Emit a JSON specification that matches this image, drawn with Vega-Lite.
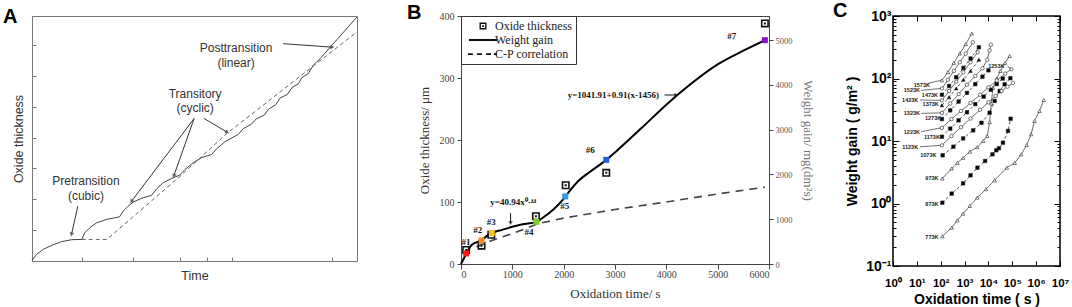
{
"$schema":"https://vega.github.io/schema/vega-lite/v6.json",
"background":"white",
"padding":{"left":2,"top":0,"right":0,"bottom":0},
"bounds":"flush",
"spacing":104,
"resolve":{"scale":{"shape":"independent","fill":"independent","color":"independent","strokeDash":"independent","x":"independent","y":"independent"},"legend":{"shape":"independent","fill":"independent","color":"independent","strokeDash":"independent"}},
"hconcat":[
{
"width":325,"height":245,
"title":{"text":"A","anchor":"start","frame":"group","dx":-29,"offset":-28,"baseline":"alphabetic","fontSize":20,"font":"Liberation Sans","fontWeight":"bold","color":"#000"},
"view":{"stroke":"#777","strokeWidth":1},
"layer":[
{"data":{"values":[{"t":0,"h":0.3},{"t":1.4,"h":2.7},{"t":3.5,"h":4.8},{"t":6.1,"h":6.4},{"t":9.1,"h":7.9},{"t":12.2,"h":8.7},{"t":15.3,"h":8.8},{"t":16.3,"h":11.6},{"t":17.8,"h":13.6},{"t":19.9,"h":15.6},{"t":23.0,"h":17.0},{"t":26.9,"h":18.0},{"t":28.1,"h":20.4},{"t":29.6,"h":22.4},{"t":31.2,"h":24.1},{"t":33.7,"h":25.6},{"t":36.8,"h":26.8},{"t":38.4,"h":29.5},{"t":40.4,"h":32.0},{"t":43.0,"h":33.7},{"t":45.5,"h":35.1},{"t":47.1,"h":37.4},{"t":49.6,"h":40.1},{"t":52.2,"h":42.2},{"t":55.3,"h":43.5},{"t":56.8,"h":45.8},{"t":59.4,"h":48.7},{"t":63.5,"h":51.7},{"t":65.0,"h":54.0},{"t":67.5,"h":55.8},{"t":69.0,"h":58.0},{"t":71.5,"h":59.6},{"t":72.7,"h":61.9},{"t":75.0,"h":63.8},{"t":76.3,"h":66.5},{"t":78.6,"h":68.0},{"t":80.0,"h":70.8},{"t":82.0,"h":72.4},{"t":83.0,"h":74.8},{"t":85.0,"h":76.5},{"t":86.6,"h":80.0},{"t":88.6,"h":82.5},{"t":100,"h":99.6}]},
 "mark":{"type":"line","color":"#444","strokeWidth":1},
 "encoding":{
  "x":{"field":"t","type":"quantitative","scale":{"domain":[0,100],"nice":false},"axis":{"title":"Time","values":[15.3,31,45.6,53.7,61.6,92.3],"labels":false,"tickSize":-4,"grid":false,"domainColor":"#777","tickColor":"#777","titleFont":"Liberation Sans","titleFontSize":12.5,"titleFontWeight":"normal","titleColor":"#333","titlePadding":8}},
  "y":{"field":"h","type":"quantitative","scale":{"domain":[0,100],"nice":false},"axis":{"title":"Oxide thickness","values":[12.6,25.2,37.8,50.4,63,75.6,88.2],"labels":false,"tickSize":-4,"grid":false,"domainColor":"#777","tickColor":"#777","titleFont":"Liberation Sans","titleFontSize":12.5,"titleFontWeight":"normal","titleColor":"#333","titlePadding":6}}
 }},
{"data":{"values":[{"t":15.3,"h":8.8},{"t":23,"h":8.8},{"t":45.5,"h":34.5},{"t":59.9,"h":52},{"t":72,"h":64.5},{"t":86,"h":79},{"t":100,"h":93.5}]},
 "mark":{"type":"line","color":"#666","strokeWidth":1,"strokeDash":[4,3]},
 "encoding":{"x":{"field":"t","type":"quantitative"},"y":{"field":"h","type":"quantitative"}}},
{"data":{"values":[{"id":"p","t":14.1,"h":22.4,"t2":12.2,"h2":11.1},{"id":"t1","t":49.9,"h":58.2,"t2":30.7,"h2":24.5},{"id":"t2","t":49.9,"h":58.2,"t2":43.7,"h2":35.0},{"id":"t3","t":52.9,"h":58.2,"t2":59.9,"h2":52.7},{"id":"q","t":77.3,"h":88.7,"t2":92.2,"h2":87.3}]},
 "layer":[
  {"mark":{"type":"rule","color":"#333","strokeWidth":1},"encoding":{"x":{"field":"t","type":"quantitative"},"y":{"field":"h","type":"quantitative"},"x2":{"field":"t2"},"y2":{"field":"h2"}}},
  {"transform":[{"filter":"datum.id=='p'"}],"mark":{"type":"point","shape":"triangle","filled":true,"color":"#333","size":22,"angle":192},"encoding":{"x":{"field":"t2","type":"quantitative"},"y":{"field":"h2","type":"quantitative"}}},
  {"transform":[{"filter":"datum.id=='t1'"}],"mark":{"type":"point","shape":"triangle","filled":true,"color":"#333","size":22,"angle":217},"encoding":{"x":{"field":"t2","type":"quantitative"},"y":{"field":"h2","type":"quantitative"}}},
  {"transform":[{"filter":"datum.id=='t2'"}],"mark":{"type":"point","shape":"triangle","filled":true,"color":"#333","size":22,"angle":200},"encoding":{"x":{"field":"t2","type":"quantitative"},"y":{"field":"h2","type":"quantitative"}}},
  {"transform":[{"filter":"datum.id=='t3'"}],"mark":{"type":"point","shape":"triangle","filled":true,"color":"#333","size":22,"angle":121},"encoding":{"x":{"field":"t2","type":"quantitative"},"y":{"field":"h2","type":"quantitative"}}},
  {"transform":[{"filter":"datum.id=='q'"}],"mark":{"type":"point","shape":"triangle","filled":true,"color":"#333","size":22,"angle":94},"encoding":{"x":{"field":"t2","type":"quantitative"},"y":{"field":"h2","type":"quantitative"}}}
 ]},
{"data":{"values":[{"t":62.8,"h":87.1,"s":"Posttransition"},{"t":62.8,"h":80.9,"s":"(linear)"},{"t":50.2,"h":68.3,"s":"Transitory"},{"t":50.2,"h":62.3,"s":"(cyclic)"},{"t":16.6,"h":32.7,"s":"Pretransition"},{"t":16.6,"h":26.5,"s":"(cubic)"}]},
 "mark":{"type":"text","font":"Liberation Sans","fontSize":12,"color":"#333","align":"center","baseline":"middle"},
 "encoding":{"x":{"field":"t","type":"quantitative"},"y":{"field":"h","type":"quantitative"},"text":{"field":"s"}}}
]
},
{
"hconcat":[
{
"width":308,"height":248,
"title":{"text":"B","anchor":"start","frame":"group","dx":-54,"offset":-28,"baseline":"alphabetic","fontSize":20,"font":"Liberation Sans","fontWeight":"bold","color":"#000"},
"view":{"stroke":"#444","strokeWidth":1},
"resolve":{"scale":{"y":"independent"}},
"layer":[
{"layer":[
 {"data":{"values":[{"t":300,"ox":28},{"t":600,"ox":38},{"t":1000,"ox":49},{"t":1500,"ox":65},{"t":2000,"ox":74},{"t":3000,"ox":88},{"t":4000,"ox":100},{"t":5000,"ox":113},{"t":5920,"ox":124}]},
  "mark":{"type":"line","color":"#444","strokeWidth":1.6,"strokeDash":[8,6]},
  "encoding":{
   "x":{"field":"t","type":"quantitative","title":"Oxidation time/ s","scale":{"domain":[0,6000],"nice":false},"axis":{"values":[0,500,1000,1500,2000,2500,3000,3500,4000,4500,5000,5500,6000],"labelExpr":"datum.value % 1000 == 0 ? datum.label : ''","format":"d","labelOverlap":false,"tickSize":{"condition":{"test":"datum.value % 1000 == 0","value":5},"value":3},"labelFont":"Liberation Serif","labelFontSize":10,"labelColor":"#444","titleFont":"Liberation Serif","titleFontSize":13,"titleFontWeight":"normal","titleColor":"#333","titlePadding":8,"grid":false,"domainColor":"#444","tickColor":"#444","labelPadding":0}},
   "y":{"field":"ox","type":"quantitative","title":"Oxide thickness/ μm","scale":{"domain":[0,400],"nice":false},"axis":{"values":[0,50,100,150,200,250,300,350,400],"tickSize":4,"labelFont":"Liberation Serif","labelFontSize":10,"labelColor":"#444","titleFont":"Liberation Serif","titleFontSize":13,"titleFontWeight":"normal","titleColor":"#333","titlePadding":8,"grid":false,"domainColor":"#444","tickColor":"#444","labelPadding":3}}
  }},
 {"data":{"values":[{"t":100,"ox":22.6,"series":"Oxide thickness"},{"t":400,"ox":29.6,"series":"Oxide thickness"},{"t":590,"ox":47,"series":"Oxide thickness"},{"t":1460,"ox":77,"series":"Oxide thickness"},{"t":2040,"ox":127,"series":"Oxide thickness"},{"t":2830,"ox":147,"series":"Oxide thickness"},{"t":5920,"ox":388,"series":"Oxide thickness"}]},
  "mark":{"type":"point","filled":true,"color":"#111","size":64,"strokeWidth":0,"opacity":1},
  "encoding":{
   "x":{"field":"t","type":"quantitative","title":"Oxidation time/ s"},
   "y":{"field":"ox","type":"quantitative","title":"Oxide thickness/ μm"},
   "shape":{"field":"series","type":"nominal","scale":{"domain":["Oxide thickness","Weight gain","C-P correlation"],"range":["M-1,-1H1V1H-1Z M-0.6,-0.6V0.6H0.6V-0.6Z M-0.25,-0.25H0.25V0.25H-0.25Z","M-4,-0.3H4V0.3H-4Z","M-4.3,-0.25H-2.9V0.25H-4.3Z M-1.7,-0.25H-0.3V0.25H-1.7Z M0.9,-0.25H2.3V0.25H0.9Z M3.1,-0.25H4V0.25H3.1Z"]},
    "legend":{"title":null,"orient":"top-left","offset":0,"padding":4,"strokeColor":"#333","fillColor":"white","cornerRadius":0,"symbolSize":49,"symbolOffset":12,"labelOffset":6,"labelFont":"Liberation Serif","labelFontSize":12,"labelColor":"#222","rowPadding":2,"symbolFillColor":"black","symbolStrokeWidth":0}}
  }},
 {"data":{"values":[{"t":98,"ox":36,"s":"#1"},{"t":326,"ox":55,"s":"#2"},{"t":587,"ox":67,"s":"#3"},{"t":1324,"ox":52,"s":"#4"},{"t":2022,"ox":94,"s":"#5"},{"t":2518,"ox":184,"s":"#6"},{"t":5273,"ox":368,"s":"#7"},{"t":1018,"ox":100.5,"s":"y=40.94x⁰·⁴⁴"},{"t":2968,"ox":272.6,"s":"y=1041.91+0.91(x-1456)"}]},
  "mark":{"type":"text","font":"Liberation Serif","fontSize":9,"fontWeight":"bold","color":"#111","align":"center","baseline":"middle"},
  "encoding":{"x":{"field":"t","type":"quantitative"},"y":{"field":"ox","type":"quantitative"},"text":{"field":"s"}}},
 {"data":{"values":[{"id":"d","t":966,"ox":82,"t2":966,"ox2":67},{"id":"r","t":3966,"ox":272.6,"t2":4180,"ox2":272.6}]},
  "layer":[
   {"mark":{"type":"rule","color":"#111","strokeWidth":1},"encoding":{"x":{"field":"t","type":"quantitative"},"y":{"field":"ox","type":"quantitative"},"x2":{"field":"t2"},"y2":{"field":"ox2"}}},
   {"transform":[{"filter":"datum.id=='d'"}],"mark":{"type":"point","shape":"triangle","filled":true,"color":"#111","size":20,"angle":180},"encoding":{"x":{"field":"t2","type":"quantitative"},"y":{"field":"ox2","type":"quantitative"}}},
   {"transform":[{"filter":"datum.id=='r'"}],"mark":{"type":"point","shape":"triangle","filled":true,"color":"#111","size":20,"angle":90},"encoding":{"x":{"field":"t2","type":"quantitative"},"y":{"field":"ox2","type":"quantitative"}}}
  ]}
]},
{"layer":[
 {"data":{"values":[{"t":0,"wg":0},{"t":50,"wg":111},{"t":100,"wg":221},{"t":150,"wg":332},{"t":200,"wg":415},{"t":300,"wg":484},{"t":400,"wg":526},{"t":500,"wg":623},{"t":600,"wg":692},{"t":800,"wg":761},{"t":1000,"wg":830},{"t":1200,"wg":886},{"t":1470,"wg":941},{"t":1600,"wg":1038},{"t":1800,"wg":1218},{"t":2000,"wg":1453},{"t":2100,"wg":1605},{"t":2300,"wg":1868},{"t":2500,"wg":2048},{"t":2800,"wg":2297},{"t":3000,"wg":2491},{"t":3500,"wg":3017},{"t":4000,"wg":3557},{"t":4500,"wg":4041},{"t":5000,"wg":4456},{"t":5500,"wg":4761},{"t":5920,"wg":4996}]},
  "mark":{"type":"line","color":"#000","strokeWidth":2,"interpolate":"monotone"},
  "encoding":{
   "x":{"field":"t","type":"quantitative","title":"Oxidation time/ s"},
   "y":{"field":"wg","type":"quantitative","title":"Weight gain/ mg(dm²s)","scale":{"domain":[0,5536],"nice":false},"axis":{"orient":"right","values":[0,500,1000,1500,2000,2500,3000,3500,4000,4500,5000,5500],"labelExpr":"datum.value % 1000 == 0 ? datum.label : ''","format":"d","labelOverlap":false,"tickSize":{"condition":{"test":"datum.value % 1000 == 0","value":4},"value":3},"labelFont":"Liberation Serif","labelFontSize":8.5,"labelColor":"#555","titleFont":"Liberation Serif","titleFontSize":13,"titleFontWeight":"normal","titleColor":"#777","titlePadding":8,"grid":false,"domainColor":"#444","tickColor":"#444","labelPadding":2}}
  }},
 {"data":{"values":[{"t":100,"wg":235,"id":"#1"},{"t":400,"wg":526,"id":"#2"},{"t":600,"wg":692,"id":"#3"},{"t":1470,"wg":941,"id":"#4"},{"t":2030,"wg":1509,"id":"#5"},{"t":2830,"wg":2325,"id":"#6"},{"t":5920,"wg":4996,"id":"#7"}]},
  "mark":{"type":"square","size":36,"opacity":1},
  "encoding":{
   "x":{"field":"t","type":"quantitative","title":"Oxidation time/ s"},
   "y":{"field":"wg","type":"quantitative","title":"Weight gain/ mg(dm²s)"},
   "color":{"field":"id","type":"nominal","scale":{"domain":["#1","#2","#3","#4","#5","#6","#7"],"range":["#ff1a1a","#f58a1f","#f7c21c","#7ccc2e","#2f9bf5","#1c5fe0","#8a10c8"]},"legend":null}
  }}
]}
]
},
{
"width":167,"height":250,
"title":{"text":"C","anchor":"start","frame":"group","dx":-60,"offset":-28,"baseline":"alphabetic","fontSize":20,"font":"Liberation Sans","fontWeight":"bold","color":"#000"},
"view":{"stroke":"#000","strokeWidth":1.5},
"resolve":{"axis":{"x":"independent","y":"independent"}},
"layer":[
{"layer":[
 {"data":{"name":"cdata","values":[
{"T":"773K","x":117,"y":0.299},{"T":"773K","x":288,"y":0.41},{"T":"773K","x":501,"y":0.537},{"T":"773K","x":871,"y":0.687},{"T":"773K","x":1660,"y":0.912},{"T":"773K","x":3388,"y":1.24},{"T":"773K","x":7943,"y":1.7},{"T":"773K","x":18197,"y":2.35},{"T":"773K","x":58884,"y":3.74},{"T":"773K","x":125893,"y":4.45},{"T":"773K","x":237137,"y":6.12},{"T":"773K","x":400000,"y":8.6},{"T":"773K","x":616595,"y":12.8},{"T":"773K","x":851138,"y":20.9},{"T":"773K","x":1380384,"y":30.2},{"T":"773K","x":2089296,"y":45.3},
{"T":"873K","x":117,"y":1.03},{"T":"873K","x":288,"y":1.44},{"T":"873K","x":871,"y":2.1},{"T":"873K","x":1778,"y":2.82},{"T":"873K","x":3467,"y":3.74},{"T":"873K","x":7244,"y":4.79},{"T":"873K","x":14791,"y":6.12},{"T":"873K","x":21380,"y":7.1},{"T":"873K","x":27542,"y":7.64},{"T":"873K","x":40738,"y":9.4},{"T":"873K","x":66069,"y":14.5},{"T":"873K","x":85114,"y":22.7},
{"T":"973K","x":117,"y":2.51},{"T":"973K","x":288,"y":3.63},{"T":"973K","x":501,"y":4.47},{"T":"973K","x":871,"y":5.37},{"T":"973K","x":1660,"y":6.76},{"T":"973K","x":3388,"y":7.94},{"T":"973K","x":6026,"y":10},{"T":"973K","x":8913,"y":12},{"T":"973K","x":11220,"y":20},{"T":"973K","x":13183,"y":39.8},{"T":"973K","x":15488,"y":70.8},{"T":"973K","x":22387,"y":100},{"T":"973K","x":31623,"y":132},{"T":"973K","x":50119,"y":178},{"T":"973K","x":77625,"y":229},
{"T":"1073K","x":120,"y":5.9},{"T":"1073K","x":339,"y":8.11},{"T":"1073K","x":871,"y":11},{"T":"1073K","x":2291,"y":14.8},{"T":"1073K","x":5129,"y":19.6},{"T":"1073K","x":11220,"y":28.4},{"T":"1073K","x":18197,"y":43.7},{"T":"1073K","x":29512,"y":63.1},{"T":"1073K","x":47863,"y":80.7},{"T":"1073K","x":83176,"y":101},
{"T":"1123K","x":112,"y":8.51},{"T":"1123K","x":282,"y":12},{"T":"1123K","x":708,"y":16.6},{"T":"1123K","x":1778,"y":22.9},{"T":"1123K","x":4467,"y":31.6},{"T":"1123K","x":10000,"y":41.7},{"T":"1123K","x":19953,"y":52.5},{"T":"1123K","x":35481,"y":63.1},{"T":"1123K","x":63096,"y":74.1},{"T":"1123K","x":107152,"y":85.1},
{"T":"1173K","x":112,"y":11.7},{"T":"1173K","x":251,"y":15.8},{"T":"1173K","x":562,"y":21.4},{"T":"1173K","x":1259,"y":28.8},{"T":"1173K","x":2818,"y":38.9},{"T":"1173K","x":6310,"y":51.3},{"T":"1173K","x":12589,"y":66.1},{"T":"1173K","x":22387,"y":81.3},{"T":"1173K","x":39811,"y":100},
{"T":"1223K","x":112,"y":16.2},{"T":"1223K","x":282,"y":22.4},{"T":"1223K","x":708,"y":30.2},{"T":"1223K","x":1778,"y":40.7},{"T":"1223K","x":4467,"y":55},{"T":"1223K","x":10000,"y":72.4},{"T":"1223K","x":22387,"y":93.3},{"T":"1223K","x":50119,"y":120},{"T":"1223K","x":91201,"y":141},
{"T":"1273K","x":112,"y":22.4},{"T":"1273K","x":251,"y":30.9},{"T":"1273K","x":562,"y":42.7},{"T":"1273K","x":1259,"y":58.9},{"T":"1273K","x":2818,"y":81.3},{"T":"1273K","x":5623,"y":107},{"T":"1273K","x":10000,"y":135},
{"T":"1323K","x":112,"y":28.2},{"T":"1323K","x":251,"y":39.8},{"T":"1323K","x":562,"y":56.2},{"T":"1323K","x":1259,"y":79.4},{"T":"1323K","x":2818,"y":110},{"T":"1323K","x":5623,"y":145},{"T":"1323K","x":8913,"y":200},{"T":"1323K","x":11220,"y":282},{"T":"1323K","x":12589,"y":347},
{"T":"1373K","x":112,"y":37.2},{"T":"1373K","x":224,"y":50.1},{"T":"1373K","x":447,"y":69.2},{"T":"1373K","x":891,"y":95.5},{"T":"1373K","x":1778,"y":132},{"T":"1373K","x":3981,"y":200},
{"T":"1423K","x":112,"y":44.7},{"T":"1423K","x":224,"y":63.1},{"T":"1423K","x":447,"y":89.1},{"T":"1423K","x":891,"y":126},{"T":"1423K","x":1778,"y":182},{"T":"1423K","x":3548,"y":263},
{"T":"1473K","x":112,"y":55},{"T":"1473K","x":224,"y":75.9},{"T":"1473K","x":447,"y":105},{"T":"1473K","x":891,"y":148},{"T":"1473K","x":1778,"y":209},{"T":"1473K","x":3981,"y":316},
{"T":"1523K","x":112,"y":69.2},{"T":"1523K","x":200,"y":95.5},{"T":"1523K","x":355,"y":132},{"T":"1523K","x":631,"y":182},{"T":"1523K","x":1122,"y":251},{"T":"1523K","x":2239,"y":380},
{"T":"1573K","x":112,"y":93.3},{"T":"1573K","x":200,"y":126},{"T":"1573K","x":355,"y":178},{"T":"1573K","x":631,"y":251},{"T":"1573K","x":1122,"y":355},{"T":"1573K","x":1995,"y":525}
]},
  "mark":{"type":"line","color":"#333","strokeWidth":0.8},
  "encoding":{
   "x":{"field":"x","type":"quantitative","scale":{"type":"log","domain":[1,10000000],"nice":false},"axis":{"title":"Oxidation time ( s )","values":[1,10,100,1000,10000,100000,1000000,10000000],"labelExpr":"['10⁰','10¹','10²','10³','10⁴','10⁵','10⁶','10⁷'][round(log(datum.value)/LN10)]","labelOverlap":false,"labelFlush":false,"tickSize":-5,"labelPadding":16,"domain":false,"grid":false,"tickColor":"#000","labelFont":"Liberation Sans","labelFontWeight":"bold","labelFontSize":11.5,"labelColor":"#000","titleFont":"Liberation Sans","titleFontWeight":"bold","titleFontSize":14,"titleColor":"#000","titlePadding":4}},
   "y":{"field":"y","type":"quantitative","scale":{"type":"log","domain":[0.1,1000],"nice":false},"axis":{"title":"Weight gain ( g/m² )","values":[0.1,0.2,0.3,0.4,0.5,0.6,0.7,0.8,0.9,1,2,3,4,5,6,7,8,9,10,20,30,40,50,60,70,80,90,100,200,300,400,500,600,700,800,900,1000],"labelExpr":"abs(log(datum.value)/LN10 - round(log(datum.value)/LN10)) < 0.01 ? ['10⁻¹','10⁰','10¹','10²','10³'][round(log(datum.value)/LN10)+1] : ''","labelOverlap":false,"labelFlush":false,"tickSize":{"condition":{"test":"abs(log(datum.value)/LN10 - round(log(datum.value)/LN10)) < 0.01","value":-6},"value":-3},"labelPadding":8,"domain":false,"grid":false,"tickColor":"#000","labelFont":"Liberation Sans","labelFontWeight":"bold","labelFontSize":14,"labelColor":"#000","titleFont":"Liberation Sans","titleFontWeight":"bold","titleFontSize":14,"titleColor":"#000","titlePadding":6}},
   "strokeDash":{"field":"T","type":"nominal","scale":{"domain":["773K","873K","973K","1073K","1123K","1173K","1223K","1273K","1323K","1373K","1423K","1473K","1523K","1573K"],"range":[[1,0],[3,2],[1,0],[3,2],[1,0],[3,2],[1,0],[3,2],[1,0],[3,2],[1,0],[3,2],[1,0],[1,0]]},"legend":null}
  }},
 {"data":{"name":"cdata"},
  "mark":{"type":"point","filled":true,"stroke":"#222","strokeWidth":0.6,"size":12,"opacity":1},
  "encoding":{
   "x":{"field":"x","type":"quantitative"},
   "y":{"field":"y","type":"quantitative"},
   "shape":{"field":"T","type":"nominal","scale":{"domain":["773K","873K","973K","1073K","1123K","1173K","1223K","1273K","1323K","1373K","1423K","1473K","1523K","1573K"],"range":["triangle-up","square","triangle-up","square","circle","square","circle","square","circle","triangle-up","circle","square","circle","triangle-up"]},"legend":null},
   "fill":{"field":"T","type":"nominal","scale":{"domain":["773K","873K","973K","1073K","1123K","1173K","1223K","1273K","1323K","1373K","1423K","1473K","1523K","1573K"],"range":["#fff","#000","#fff","#000","#fff","#000","#fff","#000","#fff","#000","#fff","#000","#fff","#fff"]},"legend":null}
  }},
 {"data":{"values":[{"x":28.2,"y":83.2,"x2":100,"y2":93.3},{"x":15.1,"y":64.6,"x2":100,"y2":69.2},{"x":13.5,"y":45.3,"x2":100,"y2":44.7},{"x":15.1,"y":27.7,"x2":100,"y2":28.2},{"x":15.1,"y":14.1,"x2":100,"y2":16.2},{"x":13.5,"y":8.1,"x2":100,"y2":8.51},{"x":63096,"y":158,"x2":89125,"y2":141}]},
  "mark":{"type":"rule","color":"#333","strokeWidth":0.7},
  "encoding":{"x":{"field":"x","type":"quantitative"},"y":{"field":"y","type":"quantitative"},"x2":{"field":"x2"},"y2":{"field":"y2"}}},
 {"data":{"values":[{"x":16.2,"y":78.7,"s":"1573K"},{"x":6.2,"y":64.6,"s":"1523K"},{"x":35.5,"y":54.5,"s":"1473K"},{"x":5.25,"y":45.3,"s":"1423K"},{"x":38,"y":38.6,"s":"1373K"},{"x":6.2,"y":27.7,"s":"1323K"},{"x":47.9,"y":23.1,"s":"1273K"},{"x":6.2,"y":14.1,"s":"1223K"},{"x":42.7,"y":11.6,"s":"1173K"},{"x":5.25,"y":8.1,"s":"1123K"},{"x":30.2,"y":5.9,"s":"1073K"},{"x":42.7,"y":2.59,"s":"973K"},{"x":42.7,"y":0.97,"s":"873K"},{"x":42.7,"y":0.29,"s":"773K"},{"x":21400,"y":158,"s":"1253K"}]},
  "mark":{"type":"text","font":"Liberation Sans","fontWeight":"bold","fontSize":5.5,"color":"#222","align":"center","baseline":"middle"},
  "encoding":{"x":{"field":"x","type":"quantitative"},"y":{"field":"y","type":"quantitative"},"text":{"field":"s"}}}
]},
{"data":{"values":[{"x":1,"y":1}]},
 "mark":{"type":"point","opacity":0},
 "encoding":{
  "x":{"field":"x","type":"quantitative","axis":{"orient":"top","title":null,"labels":false,"values":[1,10,100,1000,10000,100000,1000000,10000000],"tickSize":-5,"domain":false,"grid":false,"tickColor":"#000"}},
  "y":{"field":"y","type":"quantitative","axis":{"orient":"right","title":null,"labels":false,"values":[0.1,0.2,0.3,0.4,0.5,0.6,0.7,0.8,0.9,1,2,3,4,5,6,7,8,9,10,20,30,40,50,60,70,80,90,100,200,300,400,500,600,700,800,900,1000],"tickSize":{"condition":{"test":"abs(log(datum.value)/LN10 - round(log(datum.value)/LN10)) < 0.01","value":-6},"value":-3},"domain":false,"grid":false,"tickColor":"#000"}}
 }}
]
}
],
"spacing":124,
"bounds":"flush",
"resolve":{"scale":{"shape":"independent","fill":"independent","color":"independent","strokeDash":"independent","x":"independent","y":"independent"},"legend":{"shape":"independent","fill":"independent","color":"independent","strokeDash":"independent"}}
}
]
}
